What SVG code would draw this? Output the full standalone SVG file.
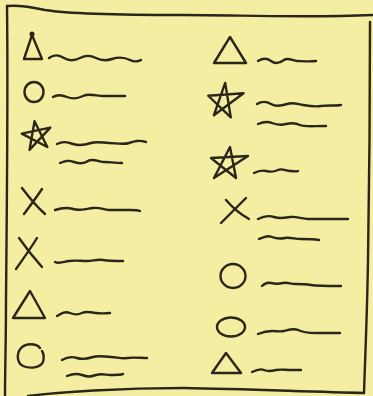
<svg xmlns="http://www.w3.org/2000/svg" width="373" height="396" viewBox="0 0 373 396">
<style>
.ink{fill:none;stroke:#2b251a;stroke-width:2.4;stroke-linecap:round;stroke-linejoin:round}
</style>
<rect x="0" y="0" width="373" height="396" fill="#f3eea2"/>
<g id="frame" class="ink">
<path d="M7,6 C20,5 30,7 45,10 C70,14 120,15 183,15 C240,15 300,18 373,15"/>
<path d="M7,6 C8,80 7,200 6,300 C6,340 5,370 5,396"/>
<path d="M370,22 C370,120 369,200 368,260 C367,320 365,360 364,393"/>
<path d="M28,396 C60,392 120,388 183,388 C250,389 310,392 364,393"/>
</g>
<g id="left-1" class="ink">
<path d="M32,35 L24,59 L42,59 Z"/><circle cx="32" cy="34" r="1.3" fill="#2b251a"/>
<path d="M49,58 c6,-4 10,-3 15,0 s10,3 16,0 s10,-3 16,0 s10,3 16,1 s12,-2 18,1 s8,1 11,0"/>
</g>
<g id="left-2" class="ink">
<ellipse cx="34" cy="92" rx="9.5" ry="10"/>
<path d="M53,97 c5,-3 9,-2 14,0 s10,2 16,-1 s14,0 20,0 s14,0 22,0"/>
</g>
<g id="left-3" class="ink">
<path d="M36,121 L46,148 L22,132 L51,129 L28,149 Z" transform="rotate(-6 37 135)"/>
<path d="M57,144 c6,-3 10,-2 16,0 s12,1 18,-1 s12,0 18,0 s14,2 20,0 s10,-3 17,-1"/>
<path d="M60,163 c5,-2 8,-3 14,-1 s10,2 14,-1 s12,1 16,1 s12,1 18,1"/>
</g>
<g id="left-4" class="ink">
<path d="M22,188 C28,196 36,206 45,214"/><path d="M42,189 C36,198 30,206 24,214"/>
<path d="M55,210 c6,-2 12,-3 18,-1 s12,0 20,-1 s10,2 16,2 s14,0 21,0 s8,0 10,1"/>
</g>
<g id="left-5" class="ink">
<path d="M19,238 C26,248 34,258 42,267"/><path d="M37,238 C31,248 23,259 16,269"/>
<path d="M55,262 c4,2 8,0 14,-1 s12,0 18,0 s10,-2 16,-1 s10,1 20,1"/>
</g>
<g id="left-6" class="ink">
<path d="M30,291 L13,318 L45,318 Z"/>
<path d="M57,316 c5,-3 8,-5 13,-3 s8,2 12,0 s8,-1 14,0 s10,0 14,0"/>
</g>
<g id="left-7" class="ink">
<path d="M40,348 C36,343 26,343 21,348 C16,354 17,363 23,366 C30,369 40,368 43,362 C44,358 44,354 42,351"/>
<path d="M62,360 c5,-3 9,-4 15,-2 s10,1 16,-1 s12,0 18,0 s10,2 16,1 s14,0 20,0"/>
<path d="M67,376 c5,-2 9,-3 15,-1 s8,2 14,0 s10,0 14,0 s10,0 13,-1"/>
</g>
<g id="right-1" class="ink">
<path d="M230,37 L214,63 L246,63 Z"/>
<path d="M258,61 c5,-3 9,-3 13,0 s9,2 13,-1 s9,1 13,1 s12,1 19,0"/>
</g>
<g id="right-2" class="ink">
<path d="M224,83 L232,117 L208,97 L243,92 L215,116 Z" transform="rotate(4 226 100)"/>
<path d="M257,104 c5,-3 9,-3 14,0 s10,2 16,0 s10,0 16,1 s12,2 18,1 s14,0 20,-1"/>
<path d="M258,124 c5,-2 9,-3 14,-1 s10,2 14,1 s10,-1 14,1 s12,1 26,1"/>
</g>
<g id="right-3" class="ink">
<path d="M230,147 L236,178 L211,158 L248,156 L214,178 Z"/>
<path d="M254,173 c4,-2 8,-3 12,-2 s8,1 12,-1 s8,1 12,1 s6,1 8,0"/>
</g>
<g id="right-4" class="ink">
<path d="M221,223 C229,215 238,206 246,198"/><path d="M226,200 C232,207 240,214 249,219"/>
<path d="M258,219 c6,-3 10,-4 16,-2 s10,1 16,0 s12,2 18,2 s12,0 20,0 s14,0 20,0"/>
<path d="M259,239 c5,-2 8,-4 13,-2 s8,2 13,1 s10,1 16,1 s12,0 18,1"/>
</g>
<g id="right-5" class="ink">
<ellipse cx="233" cy="276" rx="12.5" ry="12"/>
<path d="M262,286 c3,-3 5,-4 9,-3 s8,1 12,0 s8,1 12,1 s10,0 16,1 s16,1 30,1"/>
</g>
<g id="right-6" class="ink">
<ellipse cx="231" cy="327" rx="14" ry="9.5"/>
<path d="M258,334 c5,-2 9,-3 14,-3 s8,1 12,0 s10,-3 14,-1 s12,3 18,3 s14,0 24,0"/>
</g>
<g id="right-7" class="ink">
<path d="M226,353 L212,373 L241,373 Z"/>
<path d="M252,372 c4,-2 8,-4 12,-2 s8,1 12,0 s10,0 14,0 s8,0 11,0"/>
</g>
</svg>
